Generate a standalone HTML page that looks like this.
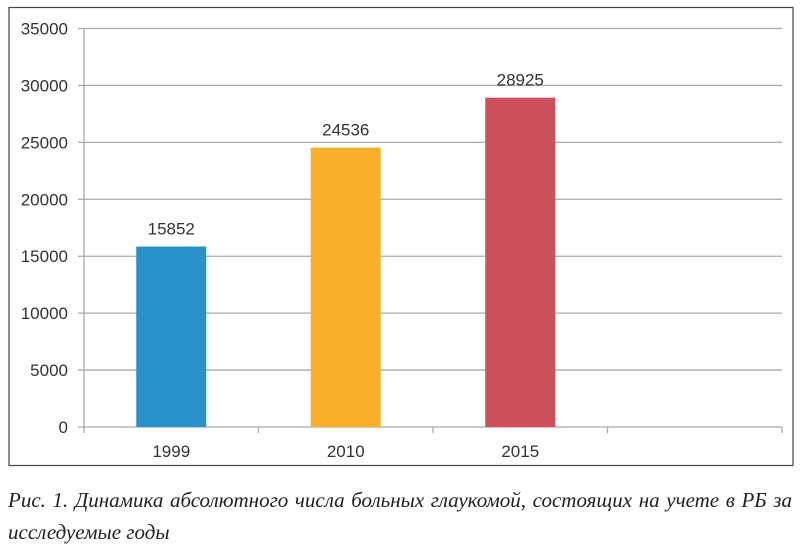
<!DOCTYPE html>
<html><head><meta charset="utf-8">
<style>
body{margin:0;width:800px;height:551px;background:#fff;overflow:hidden;position:relative}
#cap{position:absolute;left:8px;top:484px;width:784px;font-family:"Liberation Serif",serif;font-style:italic;font-size:21px;line-height:32px;color:#222;text-align:justify;text-align-last:left}
</style></head><body>
<svg width="800" height="475" style="position:absolute;left:0;top:0" font-family="Liberation Sans, sans-serif">
<rect x="9" y="7.5" width="784" height="458" fill="#fff" stroke="#444" stroke-width="1.2"/>
<g id="g"></g>
</svg>
<div id="cap">Рис. 1. Динамика абсолютного числа больных глаукомой, состоящих на учете в РБ за исследуемые годы</div>
<script>
const categories=["1999","2010","2015",""];
const values=[15852,24536,28925];
const ticks=[0,5000,10000,15000,20000,25000,30000,35000];
const colors=["#2892c9","#f8b02a","#cd505c"];
const X0=84,X1=782,Y0=427,Y1=28.5,MAX=35000;
const y=v=>Y0-(v/MAX)*(Y0-Y1);
const slot=(X1-X0)/categories.length;
const xc=i=>X0+slot*(i+0.5);
const g=document.getElementById('g');const NS="http://www.w3.org/2000/svg";
function mk(t,a,txt){const e=document.createElementNS(NS,t);for(const k in a)e.setAttribute(k,a[k]);if(txt!==undefined)e.textContent=txt;g.appendChild(e);return e;}
ticks.forEach(t=>{
 const l=mk('line',{x1:X0-6,x2:X1,y1:y(t),y2:y(t),stroke:'#aaa','stroke-width':1.3});
 
 
 const tx=mk('text',{x:68,y:y(t)+6,'text-anchor':'end','font-size':17,fill:'#333'},t);
 
 
});
const ax=mk('line',{x1:X0,x2:X0,y1:Y1,y2:Y0+6,stroke:'#aaa','stroke-width':1.3});


for(let i=1;i<=categories.length;i++){
 const tk=mk('line',{x1:X0+slot*i,x2:X0+slot*i,y1:Y0,y2:Y0+6,stroke:'#aaa','stroke-width':1.3});
 
 
}
categories.forEach((c,i)=>{
 if(!c)return;
 const t=mk('text',{x:xc(i),y:457,'text-anchor':'middle','font-size':17,fill:'#333'},c);
 
 
});
values.forEach((v,i)=>{
 const b=mk('rect',{x:xc(i)-35,y:y(v),width:70,height:Y0-y(v),fill:colors[i]});
 
 
 const t=mk('text',{x:xc(i),y:y(v)-12,'text-anchor':'middle','font-size':17,fill:'#333'},v);
 
 
});
</script>
</body></html>
